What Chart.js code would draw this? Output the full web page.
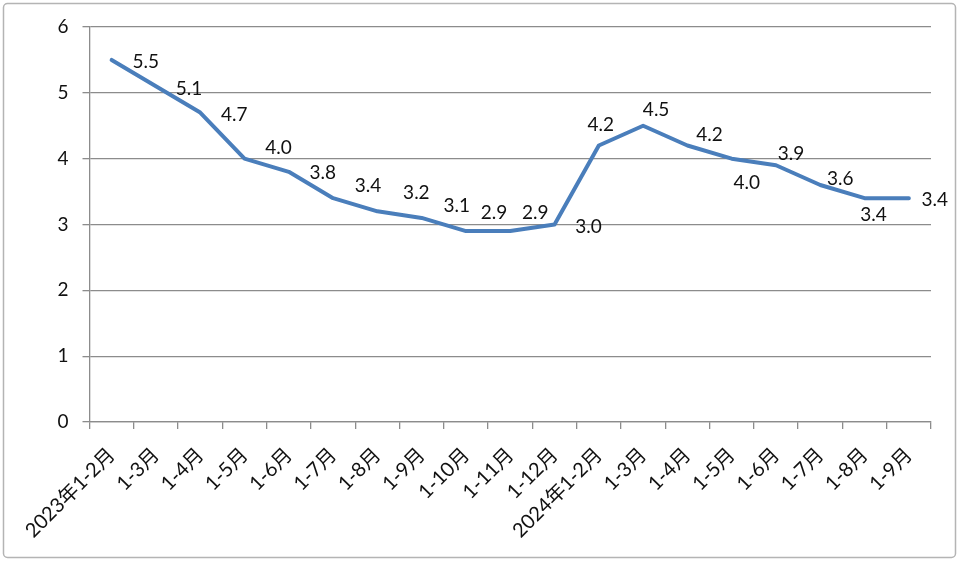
<!DOCTYPE html>
<html>
<head>
<meta charset="utf-8">
<script src="https://cdn.jsdelivr.net/npm/chart.js@4/dist/chart.umd.min.js"></script>
<style>
  html, body { margin: 0; padding: 0; background: #fff; }
  #wrap { position: absolute; left: 0; top: 0; width: 960px; height: 563px; }
</style>
</head>
<body>
<div id="wrap"><canvas id="c" width="960" height="563"></canvas></div>
<script>
// ---- data ----
const categories = [
  '2023年1-2月', '1-3月', '1-4月', '1-5月', '1-6月', '1-7月', '1-8月', '1-9月', '1-10月', '1-11月', '1-12月',
  '2024年1-2月', '1-3月', '1-4月', '1-5月', '1-6月', '1-7月', '1-8月', '1-9月'
];
const growthValues = [5.5, 5.1, 4.7, 4.0, 3.8, 3.4, 3.2, 3.1, 2.9, 2.9, 3.0, 4.2, 4.5, 4.2, 4.0, 3.9, 3.6, 3.4, 3.4];
const yTicks = [0, 1, 2, 3, 4, 5, 6];

// ---- label placement (style only: pixel offsets from each point) ----
const labelOffsets = [
  [34, 2], [33, 3], [34, 2], [34, -11], [34, 1], [35, -12], [39, -18], [35, -12], [28, -18], [25, -18],
  [34, 2], [2, -21], [13, -16], [22, -11], [15, 24], [15, -11], [20, -6], [9, 17], [26, 2]
];

const FONT = "Lato, 'Noto Sans CJK SC', sans-serif";

const frame = {
  id: 'frame',
  beforeDraw(chart) {
    const ctx = chart.ctx;
    ctx.save();
    ctx.fillStyle = '#fff';
    ctx.fillRect(0, 0, chart.width, chart.height);
    ctx.strokeStyle = '#b4b4b4';
    ctx.lineWidth = 1.5;
    ctx.beginPath();
    if (ctx.roundRect) ctx.roundRect(3.5, 3.5, 952, 554, 4); else ctx.rect(3.5, 3.5, 952, 554);
    ctx.stroke();
    ctx.restore();
  }
};

const valueLabels = {
  id: 'valueLabels',
  afterDatasetsDraw(chart) {
    const ctx = chart.ctx;
    const meta = chart.getDatasetMeta(0);
    ctx.save();
    ctx.font = '19px ' + FONT;
    ctx.fillStyle = '#111';
    ctx.textAlign = 'center';
    ctx.textBaseline = 'middle';
    meta.data.forEach((pt, i) => {
      const off = labelOffsets[i] || [0, -15];
      ctx.fillText(growthValues[i].toFixed(1), pt.x + off[0], pt.y + off[1]);
    });
    ctx.restore();
  }
};

new Chart(document.getElementById('c'), {
  type: 'line',
  data: {
    labels: categories,
    datasets: [{
      data: growthValues,
      borderColor: '#4a7ebb',
      borderWidth: 4,
      pointRadius: 0,
      tension: 0,
      borderCapStyle: 'round',
      borderJoinStyle: 'round'
    }]
  },
  options: {
    responsive: false,
    animation: false,
    devicePixelRatio: 1,
    layout: { padding: { left: 0, right: 29, top: 27, bottom: 0 } },
    plugins: { legend: { display: false }, tooltip: { enabled: false } },
    scales: {
      x: {
        offset: true,
        grid: { offset: true, drawOnChartArea: false, drawTicks: true, tickLength: 7, color: '#8c8c8c', lineWidth: 1.3 },
        border: { display: true, color: '#8c8c8c', width: 1.3 },
        ticks: {
          autoSkip: false, maxRotation: 45, minRotation: 45, padding: 14,
          color: '#111', font: { family: FONT, size: 20 }
        },
        afterFit(scale) { scale.height = 141; }
      },
      y: {
        min: 0, max: 6,
        afterBuildTicks(scale) { scale.ticks = yTicks.map(v => ({ value: v })); },
        grid: { color: '#8c8c8c', lineWidth: 1.3, tickLength: 7 },
        border: { display: true, color: '#8c8c8c', width: 1.3 },
        ticks: { color: '#111', padding: 14, font: { family: FONT, size: 19 } },
        afterFit(scale) { scale.width = 89.5; }
      }
    }
  },
  plugins: [frame, valueLabels]
});
</script>
</body>
</html>
